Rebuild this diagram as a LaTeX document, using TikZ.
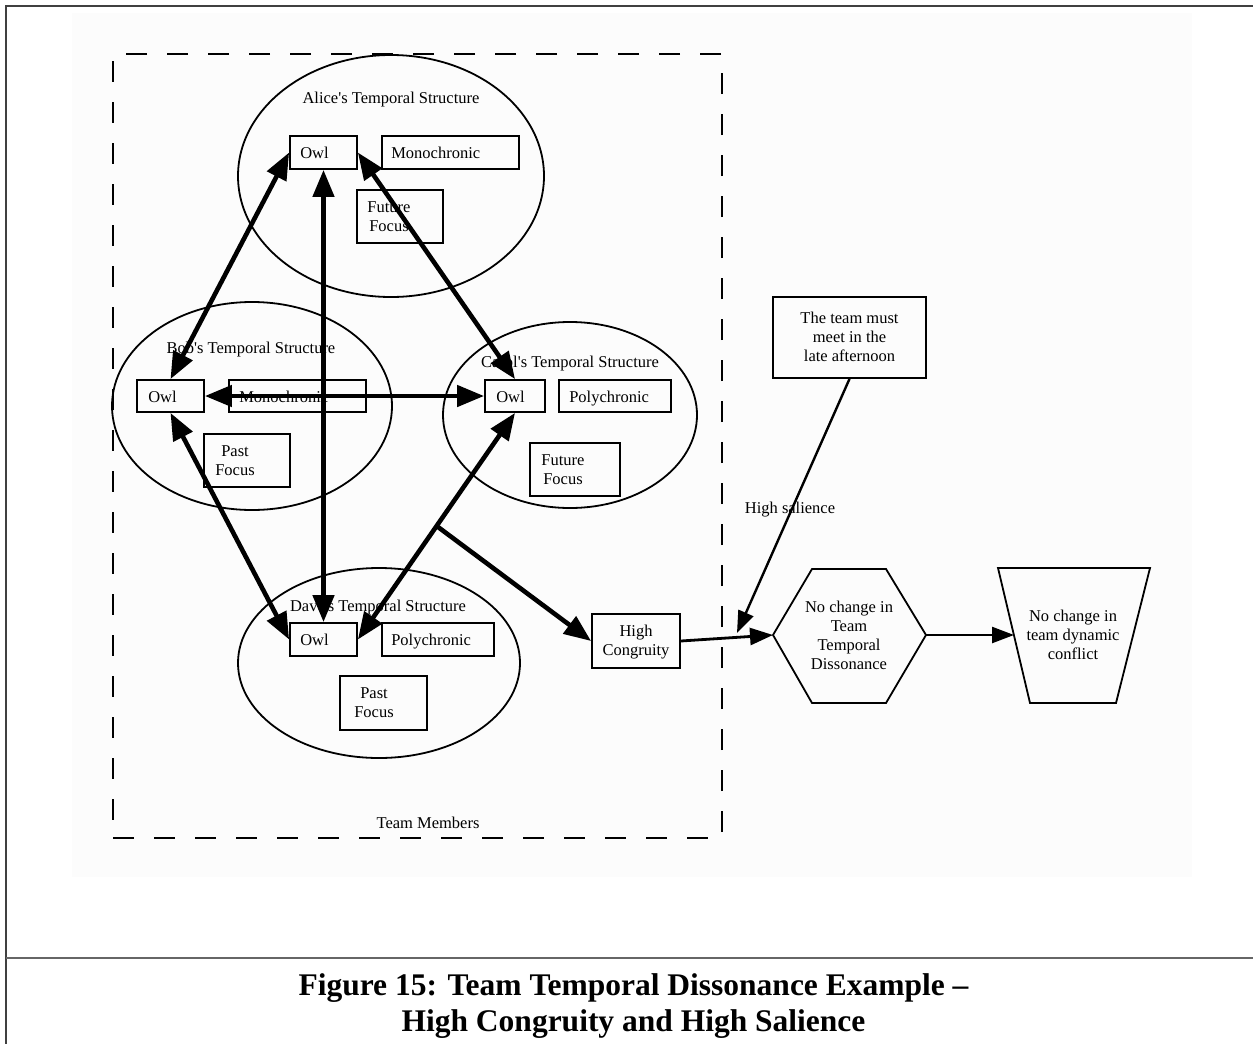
\documentclass[tikz,border=0pt]{standalone}
\usepackage{fontspec}
\setmainfont{Liberation Serif}
\usetikzlibrary{arrows.meta,shapes.geometric}
\begin{document}
\begin{tikzpicture}[x=1pt,y=-1pt,
  every node/.style={font=\fontsize{16.5}{19}\selectfont},
  txt/.style={inner sep=0pt},
  bx/.style n args={2}{draw,line width=1.8pt,rectangle,inner sep=0pt,minimum width=#1,minimum height=#2},
  struct/.style n args={2}{draw,ellipse,line width=1.8pt,inner sep=0pt,minimum width=#1,minimum height=#2},
  bidir/.style={line width=4.6pt,{Triangle[length=27pt,width=21pt]}-{Triangle[length=27pt,width=21pt]}},
  onedir/.style={line width=4.6pt,-{Triangle[length=27pt,width=21pt]}},
  thinarr/.style={line width=2.4pt,-{Triangle[length=22pt,width=16pt]}}]

\useasboundingbox (0,0) rectangle (1253,1044);
\fill[black!1] (72,13) rectangle (1192,877);

% page frame and caption separator
\draw[line width=1.6pt,black!75] (6,1044) -- (6,6) -- (1253,6);
\draw[line width=1.6pt,black!60] (6,958) -- (1253,958);

% team boundary
\node[draw,line width=2.8pt,dash pattern=on 21pt off 20pt,inner sep=0pt,
      minimum width=609pt,minimum height=784pt] (team) at (417.5,446) {};
\node[txt,anchor=base] (teamT) at (428,828) {Team Members};

% member structures
\node[struct={306pt}{242pt}] (alice) at (391,176) {};
\node[struct={280pt}{208pt}] (bob) at (252,406) {};
\node[struct={254pt}{186pt}] (carol) at (570,415) {};
\node[struct={282pt}{190pt}] (dave) at (379,663) {};

\node[txt,anchor=base] (aliceT) at (391,103) {Alice\textquotesingle s Temporal Structure};
\node[txt,anchor=base] (bobT) at (251,353) {Bob\textquotesingle s Temporal Structure};
\node[txt,anchor=base] (carolT) at (570,367) {Carol\textquotesingle s Temporal Structure};
\node[txt,anchor=base] (daveT) at (378,611) {Dave\textquotesingle s Temporal Structure};

% Alice
\node[bx={67pt}{33pt}] (aowl) at (323.5,152.5) {};
\node[bx={137pt}{33pt}] (amono) at (450.5,152.5) {};
\node[bx={86pt}{53pt}] (afut) at (400,216.5) {};
\node[txt,anchor=base west] (aowlT) at ([xshift=11pt,yshift=-5.5pt]aowl.west) {Owl};
\node[txt,anchor=base west] (amonoT) at ([xshift=10pt,yshift=-5.5pt]amono.west) {Monochronic};
\node[txt,align=center] (afutT) at (389,216.5) {Future\\Focus};

% Bob
\node[bx={67pt}{32pt}] (bowl) at (170.5,396) {};
\node[bx={137pt}{32pt}] (bmono) at (297.5,396) {};
\node[bx={86pt}{53pt}] (bpast) at (247,460.5) {};
\node[txt,anchor=base west] (bowlT) at ([xshift=12pt,yshift=-6pt]bowl.west) {Owl};
\node[txt,anchor=base west] (bmonoT) at ([xshift=11pt,yshift=-6pt]bmono.west) {Monochronic};
\node[txt,align=center] (bpastT) at (235,460.5) {Past\\Focus};

% Carol
\node[bx={60pt}{32pt}] (cowl) at (515,396) {};
\node[bx={112pt}{32pt}] (cpoly) at (615,396) {};
\node[bx={90pt}{53pt}] (cfut) at (575,469.5) {};
\node[txt,anchor=base west] (cowlT) at ([xshift=12pt,yshift=-6pt]cowl.west) {Owl};
\node[txt,anchor=base west] (cpolyT) at ([xshift=11pt,yshift=-6pt]cpoly.west) {Polychronic};
\node[txt,align=center] (cfutT) at (563,469.5) {Future\\Focus};

% Dave
\node[bx={67pt}{33pt}] (dowl) at (323.5,639.5) {};
\node[bx={112pt}{33pt}] (dpoly) at (438,639.5) {};
\node[bx={87pt}{54pt}] (dpast) at (383.5,703) {};
\node[txt,anchor=base west] (dowlT) at ([xshift=11pt,yshift=-5.5pt]dowl.west) {Owl};
\node[txt,anchor=base west] (dpolyT) at ([xshift=10pt,yshift=-5.5pt]dpoly.west) {Polychronic};
\node[txt,align=center] (dpastT) at (374,703) {Past\\Focus};

% outcome chain
\node[bx={88pt}{54pt}] (hc) at (636,641) {};
\node[txt,align=center] (hcT) at (636,642) {High\\Congruity};

\node[bx={153pt}{81pt}] (note) at (849.5,337.5) {};
\node[txt,align=center] (noteT) at (849.5,337) {The team must\\meet in the\\late afternoon};

\coordinate (hexL) at (773,635);
\coordinate (hexR) at (926,635);
\draw[line width=1.8pt,line join=miter] (hexL) -- (812,569) -- (886,569) -- (hexR) -- (886,703) -- (812,703) -- cycle;
\node[txt,align=center] (hexT) at (849,635) {No change in\\Team\\Temporal\\Dissonance};

\coordinate (trapL) at (1014,635);
\draw[line width=1.8pt,line join=miter] (998,568) -- (1150,568) -- (1116,703) -- (1030,703) -- cycle;
\node[txt,align=center] (trapT) at (1073,635) {No change in\\team dynamic\\conflict};

\node[txt,anchor=base] (salT) at (790,513) {High salience};

% connectors between the owls
\draw[bidir] (aowl.west) -- (bowl.north);
\draw[bidir] (aowl.south) -- (dowl.north);
\draw[bidir] (aowl.east) -- (cowl.north);
\draw[bidir] (bowl.east) -- (cowl.west);
\draw[bidir] (bowl.south) -- (dowl.west);
\draw[bidir] (cowl.south) -- (dowl.east);

% connectors of the outcome chain
\coordinate (teamOut) at (438,527);
\coordinate (salIn) at (737,633);
\draw[onedir] (teamOut) -- (hc.west);
\draw[line width=2.8pt,-{Triangle[length=23pt,width=17pt]}] (hc.east) -- (hexL);
\draw[thinarr] (note.south) -- (salIn);
\draw[thinarr] (hexR) -- (trapL);

% caption
\node[align=center,inner sep=0pt,font=\bfseries\fontsize{31.5}{36}\selectfont] (cap) at (633.5,1006)
  {Figure 15: Team Temporal Dissonance Example –\\High Congruity and High Salience};
\end{tikzpicture}
\end{document}
